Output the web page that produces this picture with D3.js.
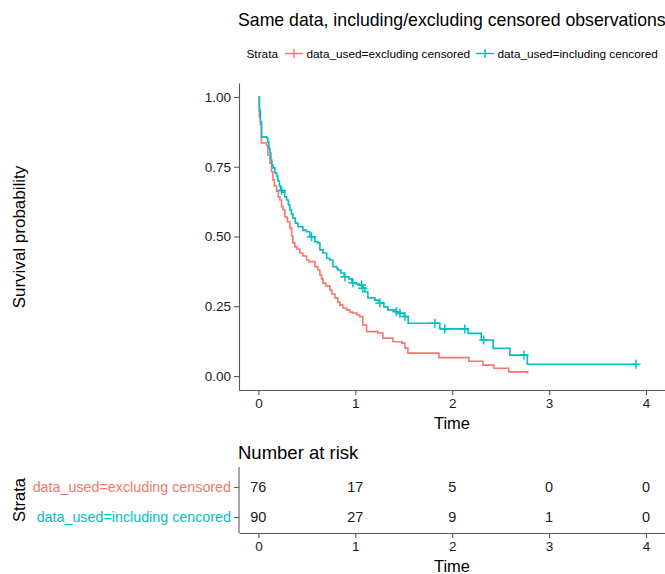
<!DOCTYPE html>
<html>
<head>
<meta charset="utf-8">
<script src="https://cdn.jsdelivr.net/npm/d3@7"></script>
<style>
  body { margin: 0; background: #fff; }
  svg text { font-family: "Liberation Sans", Arial, sans-serif; }
</style>
</head>
<body>
<div id="chart"></div>
<script>
// step points: [time, survival after the drop]
var excludedSteps = [
  [0, 1], [0.010, 0.928], [0.021, 0.900], [0.031, 0.835], [0.083, 0.826], [0.098, 0.792],
  [0.119, 0.763], [0.136, 0.732], [0.150, 0.703], [0.165, 0.681], [0.188, 0.661],
  [0.206, 0.642], [0.222, 0.631], [0.239, 0.607], [0.253, 0.595], [0.273, 0.570],
  [0.299, 0.553], [0.325, 0.530], [0.343, 0.502], [0.356, 0.477], [0.377, 0.463],
  [0.397, 0.455], [0.428, 0.441], [0.459, 0.430], [0.497, 0.416], [0.521, 0.410],
  [0.583, 0.392], [0.614, 0.380], [0.635, 0.362], [0.652, 0.348], [0.666, 0.333],
  [0.697, 0.323], [0.738, 0.308], [0.759, 0.294], [0.790, 0.280], [0.820, 0.265],
  [0.841, 0.254], [0.872, 0.244], [0.910, 0.237], [0.944, 0.229], [0.975, 0.226],
  [1.017, 0.219], [1.047, 0.213], [1.078, 0.183], [1.117, 0.159], [1.233, 0.154],
  [1.285, 0.136], [1.388, 0.123], [1.481, 0.118], [1.512, 0.100], [1.543, 0.082],
  [1.863, 0.066], [2.172, 0.053], [2.317, 0.039], [2.430, 0.028], [2.583, 0.015],
  [2.778, 0.009]
];
var includedSteps = [
  [0, 1], [0.010, 0.953], [0.021, 0.910], [0.033, 0.857], [0.085, 0.853], [0.098, 0.839],
  [0.108, 0.817], [0.119, 0.799], [0.129, 0.774], [0.139, 0.756], [0.150, 0.746],
  [0.170, 0.728], [0.188, 0.717], [0.201, 0.699], [0.217, 0.681], [0.230, 0.665],
  [0.253, 0.659], [0.273, 0.642], [0.291, 0.631], [0.310, 0.613], [0.325, 0.595],
  [0.341, 0.581], [0.356, 0.566], [0.382, 0.548], [0.408, 0.535], [0.459, 0.523],
  [0.497, 0.517], [0.531, 0.499], [0.583, 0.481], [0.614, 0.477], [0.635, 0.452],
  [0.666, 0.441], [0.704, 0.422], [0.738, 0.416], [0.769, 0.392], [0.807, 0.386],
  [0.820, 0.380], [0.851, 0.369], [0.885, 0.356], [0.934, 0.348], [0.965, 0.334],
  [1.006, 0.330], [1.040, 0.326], [1.072, 0.315], [1.099, 0.301], [1.130, 0.280],
  [1.202, 0.272], [1.245, 0.262], [1.295, 0.248], [1.336, 0.237], [1.420, 0.230],
  [1.455, 0.225], [1.505, 0.213], [1.546, 0.189], [1.873, 0.169], [2.165, 0.153],
  [2.300, 0.129], [2.423, 0.099], [2.595, 0.075], [2.776, 0.042], [3.896, 0.042]
];
// censored observation times (including series)
var censorTimes = [0.239, 0.549, 0.893, 0.975, 1.065, 1.078, 1.254, 1.426, 1.460,
  1.512, 1.822, 1.924, 2.130, 2.325, 2.740, 3.896];

var strata = ["data_used=excluding censored", "data_used=including cencored"];
var colors = ["#F8766D", "#00BFC4"];
var timeTicks = [0, 1, 2, 3, 4];
var survTicks = [0, 0.25, 0.5, 0.75, 1];
var riskExcluded = [76, 17, 5, 0, 0];
var riskIncluded = [90, 27, 9, 1, 0];

var width = 665, height = 574;
var axisColor = "#5a5a5a";

var svg = d3.select("#chart").append("svg")
  .attr("width", width)
  .attr("height", height);

var x = d3.scaleLinear().domain([-0.2, 4.2]).range([239, 665.4]);
var y = d3.scaleLinear().domain([-0.05, 1.05]).range([390, 83]);

// title
svg.append("text")
  .attr("x", 238).attr("y", 26)
  .attr("font-size", 17.7)
  .attr("fill", "#000")
  .text("Same data, including/excluding censored observations");

// legend
var legend = svg.append("g").attr("font-size", 11.8);
legend.append("text").attr("x", 246.5).attr("y", 57.5).text("Strata");
var legendX = [285, 476];
strata.forEach(function(name, i) {
  var g = legend.append("g").attr("transform", "translate(" + legendX[i] + ",53.5)");
  g.append("line").attr("x1", 0).attr("x2", 18)
    .attr("stroke", colors[i]).attr("stroke-width", 1.5);
  g.append("line").attr("x1", 9).attr("x2", 9).attr("y1", -4.5).attr("y2", 4.5)
    .attr("stroke", colors[i]).attr("stroke-width", 1.5);
  g.append("text").attr("x", 21.5).attr("y", 4).text(name);
});

// main axes
function styleAxis(g) {
  g.select(".domain").attr("stroke", axisColor).attr("stroke-width", 1.1);
  g.selectAll(".tick line").attr("stroke", axisColor).attr("stroke-width", 1.1);
  g.selectAll(".tick text").attr("fill", "#1a1a1a")
    .attr("font-family", "Liberation Sans, Arial, sans-serif");
}

svg.append("g")
  .attr("transform", "translate(239,0)")
  .call(d3.axisLeft(y).tickValues(survTicks).tickFormat(d3.format(".2f")).tickSize(5).tickSizeOuter(0).tickPadding(3))
  .attr("font-size", 13.5)
  .call(styleAxis);

svg.append("g")
  .attr("transform", "translate(0,390)")
  .call(d3.axisBottom(x).tickValues(timeTicks).tickFormat(d3.format("d")).tickSize(5).tickSizeOuter(0).tickPadding(3))
  .attr("font-size", 13.5)
  .call(styleAxis);

svg.append("text")
  .attr("transform", "translate(25,237) rotate(-90)")
  .attr("text-anchor", "middle")
  .attr("font-size", 17)
  .text("Survival probability");

svg.append("text")
  .attr("x", 452).attr("y", 429)
  .attr("text-anchor", "middle")
  .attr("font-size", 16.5)
  .text("Time");

// survival curves
var line = d3.line()
  .x(function(d) { return x(d[0]); })
  .y(function(d) { return y(d[1]); })
  .curve(d3.curveStepAfter);

[excludedSteps, includedSteps].forEach(function(steps, i) {
  svg.append("path")
    .datum(steps)
    .attr("fill", "none")
    .attr("stroke", colors[i])
    .attr("stroke-width", 1.6)
    .attr("d", line);
});

// censor marks on the including curve
var bisect = d3.bisector(function(d) { return d[0]; }).right;
function survAt(steps, t) {
  return steps[Math.max(0, bisect(steps, t) - 1)][1];
}
svg.append("g").selectAll("path")
  .data(censorTimes)
  .join("path")
  .attr("transform", function(t) {
    return "translate(" + x(t) + "," + y(survAt(includedSteps, t)) + ")";
  })
  .attr("d", "M-4.5,0H4.5M0,-4.5V4.5")
  .attr("stroke", colors[1])
  .attr("stroke-width", 1.5);

// risk table
svg.append("text")
  .attr("x", 238).attr("y", 458.5)
  .attr("font-size", 18.5)
  .text("Number at risk");

var rows = d3.scaleBand().domain(strata).range([467, 533]).padding(0);
var rowY = d3.scalePoint().domain(strata).range([487, 517]);

var riskAxisLeft = svg.append("g")
  .attr("transform", "translate(239,0)")
  .call(d3.axisLeft(rowY).tickSize(5).tickSizeOuter(0).tickPadding(3))
  .attr("font-size", 14.3)
  .call(styleAxis);
riskAxisLeft.select(".domain").attr("d", "M0," + rows.range()[0] + "V" + rows.range()[1]);
riskAxisLeft.selectAll(".tick text").attr("fill", function(d, i) { return colors[i]; });

svg.append("g")
  .attr("transform", "translate(0,533)")
  .call(d3.axisBottom(x).tickValues(timeTicks).tickFormat(d3.format("d")).tickSize(5).tickSizeOuter(0).tickPadding(3))
  .attr("font-size", 13.5)
  .call(styleAxis);

[riskExcluded, riskIncluded].forEach(function(counts, i) {
  svg.append("g").selectAll("text")
    .data(counts)
    .join("text")
    .attr("x", function(d, j) { return x(timeTicks[j]); })
    .attr("y", rowY(strata[i]) + 5)
    .attr("text-anchor", "middle")
    .attr("font-size", 14.5)
    .attr("fill", "#1a1a1a")
    .text(function(d) { return d; });
});

svg.append("text")
  .attr("transform", "translate(25,500) rotate(-90)")
  .attr("text-anchor", "middle")
  .attr("font-size", 16.5)
  .text("Strata");

svg.append("text")
  .attr("x", 452).attr("y", 572)
  .attr("text-anchor", "middle")
  .attr("font-size", 16.5)
  .text("Time");
</script>
</body>
</html>
